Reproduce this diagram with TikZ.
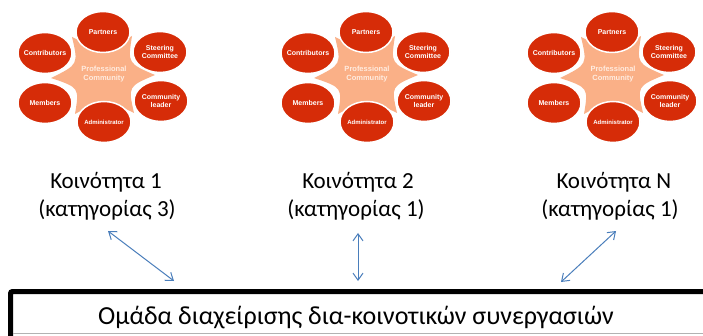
\documentclass[tikz,border=0pt]{standalone}
\usepackage{fontspec}
\setmainfont{Carlito}
\newfontfamily\labfont{Liberation Sans}
\usetikzlibrary{arrows.meta,shapes.geometric}
\definecolor{ellc}{RGB}{214,44,8}
\definecolor{starc}{RGB}{250,176,135}
\definecolor{pctc}{RGB}{255,236,224}
\definecolor{arrc}{RGB}{74,126,187}
\tikzset{
  bub/.style={ellipse, fill=ellc, draw=white, line width=1.5pt,
    minimum width=54pt, minimum height=41pt, inner sep=-12pt,
    text=white, font=\labfont\bfseries\fontsize{7}{8}\selectfont, align=center},
  pctext/.style={text=pctc, font=\labfont\bfseries\fontsize{7.5}{9}\selectfont, align=center, inner sep=0pt},
  lbl/.style={font=\fontsize{23}{28}\selectfont, anchor=base, inner sep=0pt},
  link/.style={draw=arrc, line width=1pt, {Straight Barb[length=7pt,width=10pt]}-{Straight Barb[length=7pt,width=10pt]}},
  community/.pic={
    \fill[starc] (-53,3) .. controls (-25.5,-10.5) .. (-32,-38)
      .. controls (-1,-23) .. (28,-39)
      .. controls (23.7,-11.7) .. (51,0)
      .. controls (24,11.4) .. (30,38)
      .. controls (0,23) .. (-29,39)
      .. controls (-24.6,12.6) .. (-53,3) -- cycle;
    \node[pctext] (-pc) at (0,-1) {Professional\\Community};
    \node[bub] (-partners) at (-1,-43) {Partners};
    \node[bub] (-steering) at (56,-23) {Steering\\Committee};
    \node[bub] (-leader) at (57,26) {Community\\leader};
    \node[bub, font=\labfont\bfseries\fontsize{6}{7}\selectfont] (-admin) at (0,47) {Administrator};
    \node[bub] (-members) at (-59,28) {Members};
    \node[bub] (-contrib) at (-59,-22) {Contributors};
  }
}
\begin{document}
\begin{tikzpicture}[x=1pt,y=-1pt]
  \useasboundingbox (0,0) rectangle (703,336);
  \fill[white] (0,0) rectangle (703,336);
  \pic (c1) at (104,75) {community};
  \pic (c2) at (367,75) {community};
  \pic (c3) at (613,75) {community};

  \node[lbl] (t1a) at (106,189) {Κοινότητα 1};
  \node[lbl] (t1b) at (107,217) {(κατηγορίας 3)};
  \node[lbl] (t2a) at (358,189) {Κοινότητα 2};
  \node[lbl] (t2b) at (356,217) {(κατηγορίας 1)};
  \node[lbl] (t3a) at (614,189) {Κοινότητα Ν};
  \node[lbl] (t3b) at (610,217) {(κατηγορίας 1)};

  \draw[line width=5pt, rounded corners=2pt] (10.5,291.5) rectangle (720,350);
  \draw[gray!60, line width=1pt] (13,333.5) -- (703,333.5);
  \node[lbl, font=\fontsize{26}{30}\selectfont] (team) at (356,324) {Ομάδα διαχείρισης δια-κοινοτικών συνεργασιών};

  \coordinate (a1t) at (108,231);
  \coordinate (a1b) at (174,281);
  \coordinate (a2t) at (358,233);
  \coordinate (a2b) at (358,281);
  \coordinate (a3t) at (616,231);
  \coordinate (a3b) at (561,282);
  \draw[link] (a1t) -- (a1b);
  \draw[link] (a2t) -- (a2b);
  \draw[link] (a3t) -- (a3b);
\end{tikzpicture}
\end{document}
